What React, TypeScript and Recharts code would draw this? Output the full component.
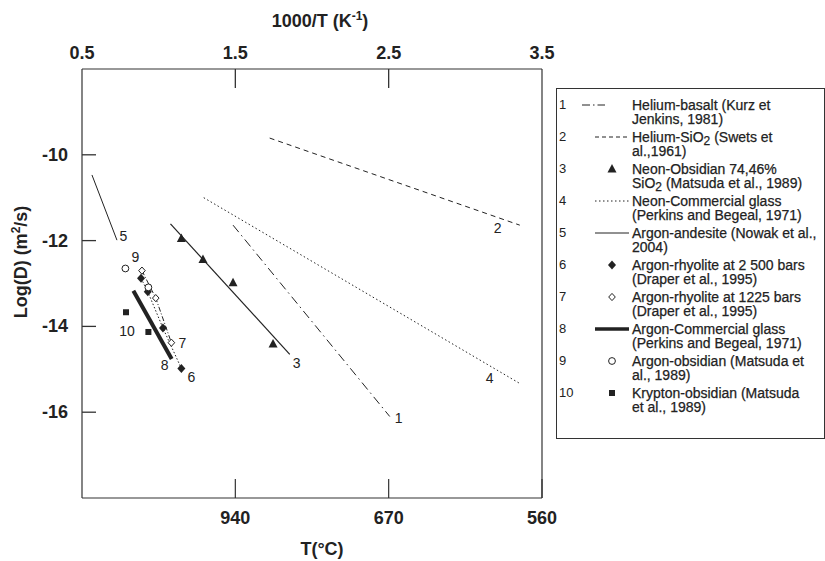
import React from 'react'
import { ComposedChart, Line, Scatter, XAxis, YAxis, ReferenceLine, Label } from 'recharts'

// axes
const invTempTicks = [0.5, 1.5, 2.5, 3.5]
const celsiusTickPos = [1.5, 2.5, 3.5]
const celsiusTickLabels = ['940', '670', '560']
const logDTicks = [-10, -12, -14, -16]

// series, x = 1000/T, y = log D
const heliumBasalt = [{ x: 1.485, y: -11.64 }, { x: 2.507, y: -16.1 }]
const heliumSiO2 = [{ x: 1.724, y: -9.61 }, { x: 3.355, y: -11.64 }]
const neonObsidianFit = [{ x: 1.077, y: -11.61 }, { x: 1.855, y: -14.65 }]
const neonObsidian = [
  { x: 1.148, y: -11.95 },
  { x: 1.289, y: -12.44 },
  { x: 1.485, y: -12.98 },
  { x: 1.746, y: -14.41 },
]
const neonGlass = [{ x: 1.294, y: -11.0 }, { x: 3.355, y: -15.33 }]
const argonAndesite = [{ x: 0.565, y: -10.47 }, { x: 0.728, y: -11.99 }]
const argonRhyolite2500 = [
  { x: 0.885, y: -12.88 },
  { x: 0.929, y: -13.19 },
  { x: 1.028, y: -14.04 },
  { x: 1.148, y: -14.98 },
]
const argonRhyolite1225 = [
  { x: 0.891, y: -12.7 },
  { x: 0.981, y: -13.34 },
  { x: 1.083, y: -14.38 },
]
const argonGlass = [{ x: 0.835, y: -13.17 }, { x: 1.085, y: -14.76 }]
const argonObsidian = [{ x: 0.783, y: -12.65 }, { x: 0.933, y: -13.09 }]
const kryptonObsidian = [{ x: 0.787, y: -13.67 }, { x: 0.933, y: -14.13 }]

// legend text, one entry per numbered series
const legendLabels = [
  ['Helium-basalt (Kurz et', 'Jenkins, 1981)'],
  ['Helium-SiO_2 (Swets et', 'al.,1961)'],
  ['Neon-Obsidian 74,46%', 'SiO_2 (Matsuda et al., 1989)'],
  ['Neon-Commercial glass', '(Perkins and Begeal, 1971)'],
  ['Argon-andesite (Nowak et al.,', '2004)'],
  ['Argon-rhyolite at 2 500 bars', '(Draper et al., 1995)'],
  ['Argon-rhyolite at 1225 bars', '(Draper et al., 1995)'],
  ['Argon-Commercial glass', '(Perkins and Begeal, 1971)'],
  ['Argon-obsidian (Matsuda et', 'al., 1989)'],
  ['Krypton-obsidian (Matsuda', 'et al., 1989)'],
]

const X_MIN = 0.5
const X_MAX = 3.5
const Y_MIN = -18
const Y_MAX = -8

// anchor points of the inward tick marks on the top and left axes
const topTickMarks = invTempTicks.filter((t) => t > X_MIN && t < X_MAX).map((t) => ({ x: t, y: Y_MAX }))
const leftTickMarks = logDTicks.map((t) => ({ x: X_MIN, y: t }))

const FONT = '"Liberation Sans", Arial, Helvetica, sans-serif'
const INK = '#222'
const AXIS = '#333'

function numberTag(text: string, at: number, dx: number, dy: number) {
  return (cx: number, cy: number, idx: number) =>
    idx === at ? (
      <text
        x={cx + dx}
        y={cy + dy}
        fontSize={14}
        fontFamily={FONT}
        fill={INK}
        textAnchor="middle"
        dominantBaseline="central"
      >
        {text}
      </text>
    ) : null
}

// dot renderer for the plain lines: no dot, only the series number
function lineDot(tag: ReturnType<typeof numberTag>) {
  return (p: any) => <g key={`d-${p.index}`}>{tag(p.cx, p.cy, p.index)}</g>
}

type Mark = 'triangle' | 'diamond' | 'openDiamond' | 'openCircle' | 'square'

function drawMark(kind: Mark, cx: number, cy: number) {
  switch (kind) {
    case 'triangle':
      return <polygon points={`${cx},${cy - 5} ${cx - 4.5},${cy + 3.5} ${cx + 4.5},${cy + 3.5}`} fill={INK} />
    case 'diamond':
      return <polygon points={`${cx},${cy - 4.5} ${cx + 4},${cy} ${cx},${cy + 4.5} ${cx - 4},${cy}`} fill={INK} />
    case 'openDiamond':
      return (
        <polygon
          points={`${cx},${cy - 3.6} ${cx + 3.3},${cy} ${cx},${cy + 3.6} ${cx - 3.3},${cy}`}
          fill="#fff"
          stroke={INK}
          strokeWidth={1}
        />
      )
    case 'openCircle':
      return <circle cx={cx} cy={cy} r={3.4} fill="#fff" stroke={INK} strokeWidth={1} />
    case 'square':
      return <rect x={cx - 3} y={cy - 3} width={6} height={6} fill={INK} />
  }
}

function markShape(kind: Mark, data: any[], tag?: ReturnType<typeof numberTag>) {
  return (p: any) => {
    const idx = typeof p.index === 'number' ? p.index : data.indexOf(p.payload)
    return (
      <g>
        {drawMark(kind, p.cx, p.cy)}
        {tag ? tag(p.cx, p.cy, idx) : null}
      </g>
    )
  }
}

// tick mark shapes: 19px down from the top axis, 14px right from the left axis
const topTickShape = (p: any) => <path d={`M${p.cx},${p.cy}v19`} stroke={AXIS} strokeWidth={1.3} fill="none" />
const leftTickShape = (p: any) => <path d={`M${p.cx},${p.cy}h14`} stroke={AXIS} strokeWidth={1.3} fill="none" />

const tickText = { fontSize: 18, fontWeight: 'bold' as const, fill: INK, fontFamily: FONT }

function TopTick(p: any) {
  return (
    <text x={p.x} y={p.y} textAnchor="middle" {...tickText}>
      {p.payload.value}
    </text>
  )
}

function LeftTick(p: any) {
  return (
    <text x={p.x} y={p.y} textAnchor="end" dominantBaseline="central" {...tickText}>
      {p.payload.value}
    </text>
  )
}

function TopTitle(props: any) {
  const vb = props.viewBox
  return (
    <text x={vb.x + vb.width / 2 + 8} y={27} fontSize={18} fontWeight="bold" fontFamily={FONT} fill={INK} textAnchor="middle">
      1000/T (K
      <tspan fontSize={12} dy={-7}>-1</tspan>
      <tspan dy={7}>)</tspan>
    </text>
  )
}

function BottomTitle(props: any) {
  const vb = props.viewBox
  return (
    <text x={vb.x + vb.width / 2 + 10} y={555} fontSize={18} fontWeight="bold" fontFamily={FONT} fill={INK} textAnchor="middle">
      T(°C)
    </text>
  )
}

function LeftTitle() {
  return (
    <text
      x={0}
      y={0}
      transform="translate(27,262) rotate(-90)"
      fontSize={18}
      fontWeight="bold"
      fontFamily={FONT}
      fill={INK}
      textAnchor="middle"
    >
      Log(D) (m
      <tspan fontSize={12} dy={-7}>2</tspan>
      <tspan dy={7}>/s)</tspan>
    </text>
  )
}

function withSub(s: string) {
  const parts = s.split('_2')
  return parts.map((part, i) => (
    <React.Fragment key={i}>
      {part}
      {i < parts.length - 1 ? (
        <span style={{ fontSize: 12, position: 'relative', top: 3, lineHeight: 0 }}>2</span>
      ) : null}
    </React.Fragment>
  ))
}

function LegendSymbol({ n }: { n: number }) {
  const line = (dash: string | undefined, w: number, x1 = 0, x2 = 34) => (
    <line x1={x1} x2={x2} y1={7} y2={7} stroke={INK} strokeWidth={w} strokeDasharray={dash} />
  )
  let g: React.ReactNode = null
  if (n === 1) g = line('8 3 1.5 3', 1, -13, 10)
  else if (n === 2) g = line('4 3', 1)
  else if (n === 3) g = drawMark('triangle', 17, 7)
  else if (n === 4) g = line('1.5 2.5', 1)
  else if (n === 5) g = line(undefined, 1)
  else if (n === 6) g = drawMark('diamond', 17, 7)
  else if (n === 7) g = drawMark('openDiamond', 17, 7)
  else if (n === 8) g = line(undefined, 3.5)
  else if (n === 9) g = drawMark('openCircle', 17, 7)
  else g = drawMark('square', 17, 7)
  return (
    <svg width={40} height={14} style={{ position: 'absolute', left: 38, top: 0, overflow: 'visible' }}>
      {g}
    </svg>
  )
}

function DiffusionLegend() {
  return (
    <div
      style={{
        position: 'absolute',
        left: 556,
        top: 88,
        width: 269,
        height: 351,
        boxSizing: 'border-box',
        border: '1px solid #333',
        fontFamily: FONT,
        color: INK,
      }}
    >
      {legendLabels.map((lines, i) => (
        <div key={i} style={{ position: 'absolute', left: 0, top: 8.5 + 32 * i, width: 268, height: 30 }}>
          <span style={{ position: 'absolute', left: 2, top: 0, fontSize: 13, lineHeight: '14.5px' }}>{i + 1}</span>
          <LegendSymbol n={i + 1} />
          <div
            style={{
              position: 'absolute',
              left: 75,
              top: 0,
              fontSize: 14,
              lineHeight: '14.5px',
              whiteSpace: 'nowrap',
              WebkitTextStroke: '0.25px #222',
            }}
          >
            {lines.map((l, j) => (
              <div key={j}>{withSub(l)}</div>
            ))}
          </div>
        </div>
      ))}
    </div>
  )
}

const axisLine = { stroke: AXIS, strokeWidth: 1.2 }

export default function App() {
  return (
    <div style={{ position: 'absolute', left: 0, top: 0, width: 825, height: 561, background: '#fff' }}>
      <ComposedChart width={825} height={561} margin={{ top: 29, right: 283, bottom: 23, left: 22 }}>
        <XAxis
          xAxisId="top"
          orientation="top"
          type="number"
          dataKey="x"
          domain={[X_MIN, X_MAX]}
          ticks={invTempTicks}
          allowDataOverflow
          height={40}
          axisLine={axisLine}
          tickLine={false}
          tickSize={0}
          tickMargin={10.5}
          tick={TopTick}
          interval={0}
        >
          <Label content={TopTitle} />
        </XAxis>
        <XAxis
          xAxisId="bottom"
          orientation="bottom"
          type="number"
          dataKey="x"
          domain={[X_MIN, X_MAX]}
          ticks={celsiusTickPos}
          tickFormatter={(v: number) => celsiusTickLabels[celsiusTickPos.indexOf(v)] ?? ''}
          allowDataOverflow
          height={40}
          axisLine={axisLine}
          tickLine={axisLine}
          tickSize={-19}
          tickMargin={32.5}
          tick={tickText}
          interval={0}
        >
          <Label content={BottomTitle} />
        </XAxis>
        <YAxis
          type="number"
          dataKey="y"
          domain={[Y_MIN, Y_MAX]}
          ticks={logDTicks}
          allowDataOverflow
          width={60}
          axisLine={axisLine}
          tickLine={false}
          tickSize={0}
          tickMargin={14}
          tick={LeftTick}
          interval={0}
        >
          <Label content={LeftTitle} />
        </YAxis>
        <ReferenceLine xAxisId="top" x={X_MAX} stroke={AXIS} strokeWidth={1.2} />

        <Scatter xAxisId="top" data={topTickMarks} dataKey="y" shape={topTickShape} isAnimationActive={false} />
        <Scatter xAxisId="top" data={leftTickMarks} dataKey="y" shape={leftTickShape} isAnimationActive={false} />

        <Line
          xAxisId="top"
          data={heliumBasalt}
          dataKey="y"
          stroke={INK}
          strokeWidth={1}
          strokeDasharray="9 4 1.5 4"
          dot={lineDot(numberTag('1', 1, 9, 2))}
          activeDot={false}
          isAnimationActive={false}
        />
        <Line
          xAxisId="top"
          data={heliumSiO2}
          dataKey="y"
          stroke={INK}
          strokeWidth={1}
          strokeDasharray="5 4"
          dot={lineDot(numberTag('2', 1, -22, 3))}
          activeDot={false}
          isAnimationActive={false}
        />
        <Line
          xAxisId="top"
          data={neonObsidianFit}
          dataKey="y"
          stroke={INK}
          strokeWidth={1.2}
          dot={lineDot(numberTag('3', 1, 7, 9))}
          activeDot={false}
          isAnimationActive={false}
        />
        <Line
          xAxisId="top"
          data={neonGlass}
          dataKey="y"
          stroke={INK}
          strokeWidth={1}
          strokeDasharray="1.5 2.5"
          dot={lineDot(numberTag('4', 1, -30, -5))}
          activeDot={false}
          isAnimationActive={false}
        />
        <Line
          xAxisId="top"
          data={argonAndesite}
          dataKey="y"
          stroke={INK}
          strokeWidth={1}
          dot={lineDot(numberTag('5', 1, 6.5, -4))}
          activeDot={false}
          isAnimationActive={false}
        />
        <Line
          xAxisId="top"
          data={argonGlass}
          dataKey="y"
          stroke={INK}
          strokeWidth={4}
          dot={lineDot(numberTag('8', 1, -7, 6))}
          activeDot={false}
          isAnimationActive={false}
        />

        <Scatter
          xAxisId="top"
          data={neonObsidian}
          dataKey="y"
          fill={INK}
          shape={markShape('triangle', neonObsidian)}
          isAnimationActive={false}
        />
        <Scatter
          xAxisId="top"
          data={argonRhyolite2500}
          dataKey="y"
          fill={INK}
          line={{ stroke: INK, strokeWidth: 1, strokeDasharray: '1.5 2' }}
          shape={markShape('diamond', argonRhyolite2500, numberTag('6', 3, 10, 9))}
          isAnimationActive={false}
        />
        <Scatter
          xAxisId="top"
          data={argonRhyolite1225}
          dataKey="y"
          fill={INK}
          line={{ stroke: INK, strokeWidth: 1, strokeDasharray: '5 2 1 2' }}
          shape={markShape('openDiamond', argonRhyolite1225, numberTag('7', 2, 11, 0))}
          isAnimationActive={false}
        />
        <Scatter
          xAxisId="top"
          data={argonObsidian}
          dataKey="y"
          fill={INK}
          shape={markShape('openCircle', argonObsidian, numberTag('9', 0, 10, -11))}
          isAnimationActive={false}
        />
        <Scatter
          xAxisId="top"
          data={kryptonObsidian}
          dataKey="y"
          fill={INK}
          shape={markShape('square', kryptonObsidian, numberTag('10', 0, 1, 19))}
          isAnimationActive={false}
        />
      </ComposedChart>
      <DiffusionLegend />
    </div>
  )
}
